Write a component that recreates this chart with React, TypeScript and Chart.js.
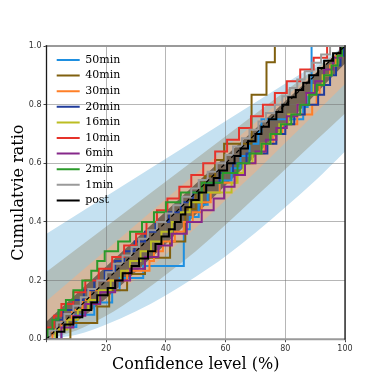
import React, { useEffect, useRef } from 'react';
import { Chart, registerables } from 'chart.js';

Chart.register(...registerables);

// ---- Series (confidence levels at which each cumulative step occurs) ----
const seriesNames = ['50min', '40min', '30min', '20min', '16min', '10min', '6min', '2min', '1min', 'post'];
const seriesColors = ['#1e8fe0', '#80600f', '#ff7f27', '#203c9c', '#bcbd22', '#e6332a', '#86288a', '#2a9a2a', '#9a9a9a', '#000000'];

const x50min = [5, 10, 16, 22, 24.5, 32.4, 46, 46, 46, 48, 51, 54, 58, 62, 65, 68, 71, 72, 86, 87.5, 88.8, 88.8, 88.8, 88.8];
const x40min = [8, 17, 21, 27, 33, 41.4, 46.5, 46.5, 50, 53, 56.5, 59.5, 68.7, 68.7, 68.7, 73.7, 73.7, 76.5];
const x30min = [2, 5, 8.5, 12, 14.5, 17, 27, 34.5, 36, 39, 43, 46, 49, 52, 55, 58, 63.5, 66.5, 70, 73, 76, 79, 84, 89, 90.5, 91.5, 93, 95, 97, 98.5];
const x20min = [0.5, 2.5, 5.5, 9, 12.5, 16, 19.5, 23, 26, 29.5, 33, 36.5, 41, 45, 49, 53.5, 58, 62.5, 67, 74, 77, 80, 83, 86.5, 91, 93, 95, 97, 98.5, 99.5];
const x16min = [3, 7, 10.5, 14, 17.5, 21.5, 25, 28, 31.5, 35, 38.5, 42, 45, 48, 52, 62, 64, 66, 69, 72, 75, 78, 81, 84, 87, 89.5, 92.5, 95.5, 97.5, 99];
const x10min = [0.3, 2.5, 5, 9, 13, 17.5, 22, 26, 30, 33.5, 37, 40.5, 44.5, 48.5, 52.5, 56.5, 60.5, 64.5, 68.5, 72.5, 76.5, 80.5, 85, 89.5, 94];
const x6min = [5, 9, 13, 18, 23, 28, 33, 37.5, 42, 47, 52, 56, 59.5, 63, 66.5, 70, 73.5, 77, 80.5, 84, 87, 90, 93, 96, 98.5];
const x2min = [0.5, 2, 4, 6.5, 9, 12, 15, 17, 19.5, 24, 28, 32, 36, 40, 45, 52, 59, 64, 68, 72, 75, 78.5, 82, 85, 88, 90.5, 93, 95.5, 97.5, 99];
const x1min = [1, 3.5, 6, 9, 11.5, 14, 17, 20, 22.5, 25.5, 28.5, 31, 34, 37, 40, 42.5, 45.5, 48.5, 51, 54, 57, 60, 62.5, 65.5, 68, 71, 73.5, 76.5, 79, 81.5, 84, 86.5, 89, 92, 95];
const xPost = [3.5, 6, 9, 12, 15, 17, 20.5, 23, 25.5, 28.5, 31, 34, 36.5, 38.5, 41, 43, 45, 46.5, 48.5, 51, 53.5, 56, 58, 60.5, 63, 65, 67.5, 70, 72, 74.5, 77, 79, 81, 83.5, 86, 88, 91, 93, 96, 98.5];

const seriesX = [x50min, x40min, x30min, x20min, x16min, x10min, x6min, x2min, x1min, xPost];

// ---- Confidence bands (upper edges; lower edges are the point-symmetric counterpart) ----
const bandX = [0, 10, 20, 30, 40, 50, 60, 70, 80, 90, 100];
const bandBlueUpper = [0.36, 0.46, 0.55, 0.637, 0.717, 0.787, 0.85, 0.905, 0.95, 0.985, 1.0];
const bandGrayUpper = [0.23, 0.325, 0.42, 0.515, 0.61, 0.70, 0.78, 0.855, 0.92, 0.97, 1.0];
const bandTanUpper = [0.13, 0.23, 0.33, 0.43, 0.525, 0.62, 0.71, 0.795, 0.87, 0.94, 1.0];
const bandDarkUpper = [0.06, 0.165, 0.27, 0.375, 0.475, 0.575, 0.675, 0.77, 0.86, 0.94, 1.0];

const bandColors = ['#756656', '#d5b79e', '#b1bfbd', '#c5e1f1'];

const xTicks = [0, 20, 40, 60, 80, 100];
const yTicks = [0, 0.2, 0.4, 0.6, 0.8, 1.0];

function upperPts(u: number[]) {
  return bandX.map((x, i) => ({ x, y: u[i] }));
}
function lowerPts(u: number[]) {
  return bandX.map((x, i) => ({ x: 100 - x, y: 1 - u[i] })).reverse();
}

const spinesPlugin = {
  id: 'spines',
  afterDatasetsDraw(chart: any) {
    const { ctx, chartArea: a } = chart;
    ctx.save();
    ctx.lineCap = 'square';
    ctx.strokeStyle = '#9a9a9a';
    ctx.lineWidth = 2;
    ctx.beginPath();
    ctx.moveTo(a.left, a.top); ctx.lineTo(a.right, a.top);
    ctx.moveTo(a.left, a.bottom); ctx.lineTo(a.right, a.bottom);
    ctx.stroke();
    ctx.strokeStyle = '#1a1a1a';
    ctx.lineWidth = 1.3;
    ctx.beginPath();
    ctx.moveTo(a.left, a.top); ctx.lineTo(a.left, a.bottom);
    ctx.moveTo(a.right, a.top); ctx.lineTo(a.right, a.bottom);
    ctx.stroke();
    ctx.restore();
  },
};

const legendPlace = {
  id: 'legendPlace',
  afterLayout(chart: any) {
    const lg = chart.legend;
    const a = chart.chartArea;
    if (lg && a) {
      lg.left = a.left + 5.6;
      lg.top = a.top + 3.9;
      lg.right = a.right;
      lg.bottom = a.bottom;
      lg.width = a.right - lg.left;
      lg.height = a.bottom - lg.top;
    }
  },
};

export default function App() {
  const ref = useRef<HTMLCanvasElement>(null);
  useEffect(() => {
    if (!ref.current) return;
    const datasets: any[] = [];
    seriesX.forEach((xs, si) => {
      datasets.push({
        label: seriesNames[si],
        data: [{ x: 0, y: 0 }, ...xs.map((x, i) => ({ x, y: (i + 1) / xs.length }))],
        borderColor: seriesColors[si],
        backgroundColor: seriesColors[si],
        borderWidth: 2,
        stepped: true,
        pointRadius: 0,
        fill: false,
        order: 10 - si,
      });
    });
    datasets.push({
      label: 'diag',
      data: [{ x: 0, y: 0 }, { x: 100, y: 1 }],
      borderColor: '#000',
      borderWidth: 1.2,
      borderDash: [4, 3],
      pointRadius: 0,
      fill: false,
      order: 0,
    });
    const bands = [bandDarkUpper, bandTanUpper, bandGrayUpper, bandBlueUpper];
    bands.forEach((u, bi) => {
      const upIdx = datasets.length;
      datasets.push({
        label: 'bu' + bi,
        data: upperPts(u),
        borderWidth: 0,
        borderColor: 'rgba(0,0,0,0)',
        pointRadius: 0,
        fill: false,
        cubicInterpolationMode: 'monotone',
        order: 20 + bi * 2,
      });
      datasets.push({
        label: 'bl' + bi,
        data: lowerPts(u),
        borderWidth: 0,
        borderColor: 'rgba(0,0,0,0)',
        backgroundColor: bandColors[bi],
        pointRadius: 0,
        fill: upIdx,
        cubicInterpolationMode: 'monotone',
        order: 21 + bi * 2,
      });
    });

    const chart = new Chart(ref.current, {
      type: 'line',
      data: { datasets },
      options: {
        animation: false,
        responsive: false,
        maintainAspectRatio: false,
        layout: { padding: { left: 0, right: 37, top: 46, bottom: 0 } },
        plugins: {
          filler: { drawTime: 'beforeDraw' },
          tooltip: { enabled: false },
          legend: {
            position: 'chartArea',
            align: 'start',
            labels: {
              usePointStyle: true,
              pointStyle: 'line',
              pointStyleWidth: 23,
              padding: 4.6,
              color: '#000',
              font: { family: 'DejaVu Serif', size: 11 },
              generateLabels: () =>
                seriesNames.map((name, i) => ({
                  text: name,
                  strokeStyle: seriesColors[i],
                  fillStyle: seriesColors[i],
                  fontColor: '#000',
                  lineWidth: 2,
                  pointStyle: 'line',
                  hidden: false,
                  datasetIndex: i,
                })),
            },
          },
        },
        scales: {
          x: {
            type: 'linear',
            min: 0,
            max: 100,
            afterFit: (s: any) => { s.height = 42.8; },
            afterBuildTicks: (s: any) => { s.ticks = xTicks.map((v) => ({ value: v })); },
            ticks: {
              callback: (v: any) => (Number(v) === 0 ? '' : String(v)),
              color: '#333',
              font: { family: 'DejaVu Sans', size: 8 },
              padding: 2,
              maxRotation: 0,
            },
            grid: { color: 'rgba(110,110,110,0.5)', lineWidth: 1, tickLength: 3, tickColor: '#444' },
            border: { display: false },
            title: {
              display: true,
              text: 'Confidence level (%)',
              color: '#000',
              font: { family: 'DejaVu Serif', size: 16 },
              padding: { top: 0, bottom: 7.4 },
            },
          },
          y: {
            type: 'linear',
            min: 0,
            max: 1,
            afterFit: (s: any) => { s.width = 46.5; },
            afterBuildTicks: (s: any) => { s.ticks = yTicks.map((v) => ({ value: v })); },
            ticks: {
              callback: (v: any) => Number(v).toFixed(1),
              color: '#333',
              font: { family: 'DejaVu Sans', size: 8 },
              padding: 2,
            },
            grid: { color: 'rgba(110,110,110,0.5)', lineWidth: 1, tickLength: 3, tickColor: '#444' },
            border: { display: false },
            title: {
              display: true,
              text: 'Cumulatvie ratio',
              color: '#000',
              font: { family: 'DejaVu Serif', size: 16 },
              padding: { top: 9, bottom: 0 },
            },
          },
        },
      },
      plugins: [spinesPlugin, legendPlace],
    } as any);
    return () => chart.destroy();
  }, []);
  return (
    <div style={{ position: 'fixed', left: 0, top: 0, width: 382, height: 382, background: '#fff' }}>
      <canvas ref={ref} width={382} height={382} />
    </div>
  );
}
